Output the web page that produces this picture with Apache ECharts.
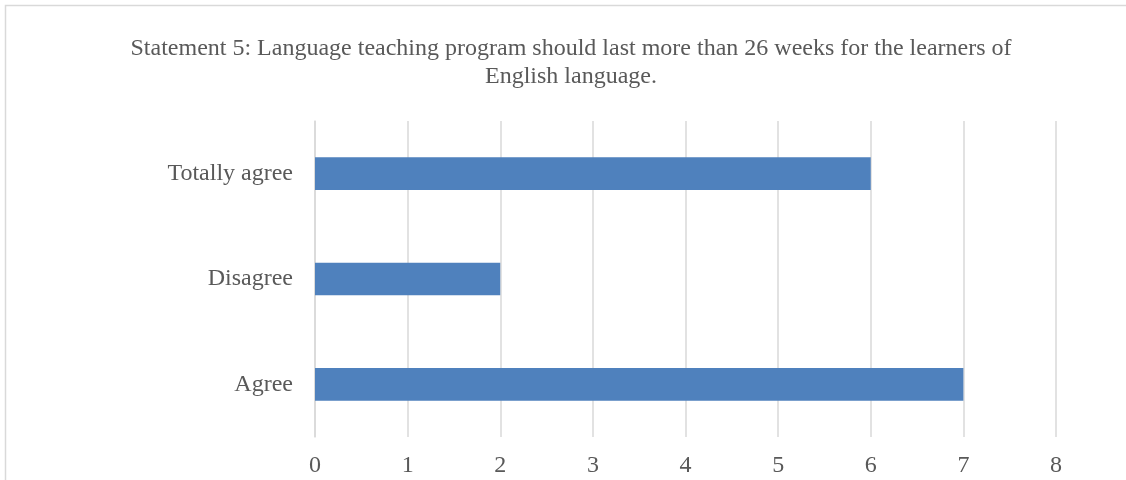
<!DOCTYPE html>
<html><head><meta charset="utf-8">
<script src="https://cdn.jsdelivr.net/npm/echarts@6/dist/echarts.min.js"></script>
<style>html,body{margin:0;padding:0;background:#fff}#c{width:1126px;height:480px}</style>
</head><body><div id="c"></div>
<script>
const categories = ['Agree', 'Disagree', 'Totally agree'];
const values = [7, 2, 6];
const titleText = 'Statement 5: Language teaching program should last more than 26 weeks for the learners of\nEnglish language.';
const chart = echarts.init(document.getElementById('c'));
chart.setOption({
  animation: false,
  backgroundColor: '#fff',
  title: {
    text: titleText, left: 566, top: 30, textAlign: 'center',
    textStyle: { fontFamily: 'Liberation Serif', fontSize: 24, fontWeight: 'normal', color: '#595959', lineHeight: 28 }
  },
  graphic: [{ type: 'rect', shape: { x: 5.5, y: 5.5, width: 1200, height: 600 }, style: { fill: 'none', stroke: '#d9d9d9', lineWidth: 1.5 }, silent: true }],
  grid: { left: 315, right: 70, top: 121, bottom: 43 },
  xAxis: {
    type: 'value', min: 0, max: 8, interval: 1,
    axisLine: { show: false }, axisTick: { show: false },
    splitLine: { lineStyle: { color: '#d9d9d9', width: 1.5 } },
    axisLabel: { margin: 17, fontFamily: 'Liberation Serif', fontSize: 24, color: '#595959' }
  },
  yAxis: {
    type: 'category', data: categories,
    axisLine: { show: true, lineStyle: { color: '#d9d9d9', width: 1.5 } }, axisTick: { show: false },
    axisLabel: { margin: 22, fontFamily: 'Liberation Serif', fontSize: 24, color: '#595959' }
  },
  series: [{ type: 'bar', data: values, barWidth: '31%', itemStyle: { color: '#4f81bd' } }]
});
</script></body></html>
